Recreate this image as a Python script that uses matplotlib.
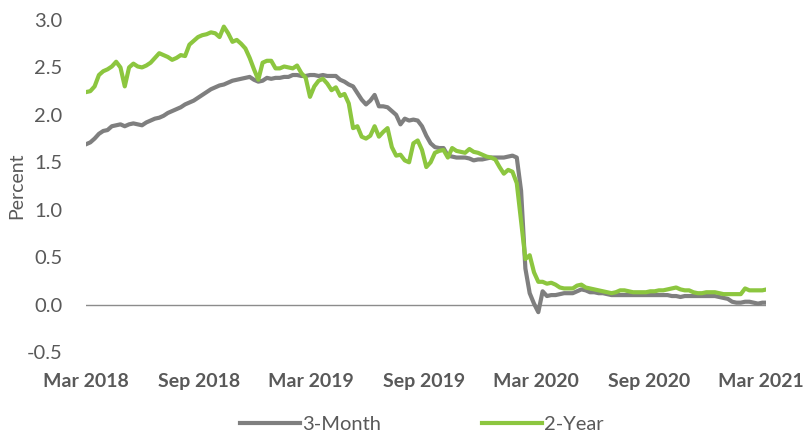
import numpy as np
import pandas as pd
import matplotlib
matplotlib.use("Agg")
import matplotlib.pyplot as plt
import matplotlib.dates as mdates

# weekly readings, Mar 2018 - Mar 2021
start_date = "2018-03-01"
n_weeks = 159

three_month = [
    1.69, 1.71, 1.75, 1.80, 1.83, 1.84, 1.88, 1.89, 1.90, 1.88,
    1.90, 1.91, 1.90, 1.89, 1.92, 1.94, 1.96, 1.97, 1.99, 2.02,
    2.04, 2.06, 2.08, 2.11, 2.13, 2.15, 2.18, 2.21, 2.24, 2.27,
    2.29, 2.31, 2.32, 2.34, 2.36, 2.37, 2.38, 2.39, 2.40, 2.37,
    2.35, 2.36, 2.39, 2.38, 2.39, 2.39, 2.40, 2.40, 2.42, 2.42,
    2.41, 2.41, 2.42, 2.42, 2.41, 2.42, 2.41, 2.41, 2.41, 2.37,
    2.35, 2.32, 2.30, 2.23, 2.16, 2.11, 2.15, 2.21, 2.09, 2.09,
    2.08, 2.04, 2.00, 1.90, 1.96, 1.94, 1.95, 1.94, 1.88, 1.78,
    1.70, 1.66, 1.65, 1.65, 1.57, 1.56, 1.55, 1.55, 1.55, 1.54,
    1.52, 1.53, 1.53, 1.54, 1.55, 1.55, 1.55, 1.55, 1.56, 1.57,
    1.55, 1.20, 0.38, 0.12, 0.01, -0.08, 0.14, 0.09, 0.10, 0.10,
    0.11, 0.12, 0.12, 0.12, 0.14, 0.16, 0.15, 0.13, 0.13, 0.12,
    0.12, 0.11, 0.10, 0.10, 0.10, 0.10, 0.10, 0.10, 0.10, 0.10,
    0.10, 0.10, 0.10, 0.10, 0.10, 0.10, 0.09, 0.09, 0.08, 0.09,
    0.09, 0.09, 0.09, 0.09, 0.09, 0.09, 0.09, 0.08, 0.07, 0.06,
    0.03, 0.02, 0.02, 0.03, 0.03, 0.02, 0.01, 0.02, 0.02,
]

two_year = [
    2.24, 2.25, 2.30, 2.42, 2.46, 2.48, 2.51, 2.56, 2.50, 2.30,
    2.50, 2.54, 2.51, 2.50, 2.52, 2.55, 2.60, 2.65, 2.63, 2.61,
    2.58, 2.60, 2.63, 2.62, 2.74, 2.78, 2.82, 2.84, 2.85, 2.87,
    2.86, 2.82, 2.93, 2.86, 2.77, 2.79, 2.75, 2.70, 2.60, 2.48,
    2.37, 2.55, 2.57, 2.57, 2.49, 2.49, 2.51, 2.50, 2.49, 2.52,
    2.44, 2.39, 2.19, 2.30, 2.36, 2.38, 2.33, 2.26, 2.29, 2.20,
    2.22, 2.12, 1.86, 1.88, 1.77, 1.75, 1.78, 1.88, 1.77, 1.82,
    1.86, 1.66, 1.57, 1.58, 1.52, 1.50, 1.70, 1.73, 1.63, 1.45,
    1.50, 1.60, 1.62, 1.63, 1.55, 1.65, 1.62, 1.61, 1.60, 1.64,
    1.61, 1.60, 1.58, 1.56, 1.55, 1.53, 1.45, 1.38, 1.42, 1.40,
    1.28, 0.88, 0.48, 0.52, 0.34, 0.24, 0.24, 0.22, 0.23, 0.21,
    0.18, 0.17, 0.17, 0.17, 0.20, 0.21, 0.18, 0.17, 0.16, 0.15,
    0.14, 0.13, 0.12, 0.13, 0.15, 0.15, 0.14, 0.13, 0.13, 0.13,
    0.13, 0.14, 0.14, 0.15, 0.15, 0.16, 0.17, 0.18, 0.16, 0.15,
    0.15, 0.13, 0.12, 0.12, 0.13, 0.13, 0.13, 0.12, 0.11, 0.11,
    0.11, 0.11, 0.11, 0.17, 0.15, 0.15, 0.15, 0.15, 0.16,
]

dates = pd.date_range(start_date, periods=n_weeks, freq="7D")

plt.rcParams['font.family'] = ['Lato', 'DejaVu Sans']
txt = '#595959'

fig = plt.figure(figsize=(8.11, 4.46), dpi=100)
ax = fig.add_axes([86/811, 1-352/446, (766-86)/811, (352-20)/446])

ax.plot(dates, three_month, color='#7f7f7f', lw=3.0, label='3-Month', solid_joinstyle='round')
ax.plot(dates, two_year, color='#8cc63f', lw=3.0, label='2-Year', solid_joinstyle='round')
ax.axhline(0, color='#8c8c8c', lw=1, zorder=0)

ax.set_xlim(pd.Timestamp("2018-03-01"), pd.Timestamp("2021-03-10"))
ax.set_ylim(-0.5, 3.0)
ax.set_yticks(np.arange(-0.5, 3.01, 0.5))
ax.yaxis.set_major_formatter(plt.FuncFormatter(lambda v, p: f"{v:.1f}"))
ax.xaxis.set_major_locator(mdates.MonthLocator(bymonth=[3, 9]))
ax.xaxis.set_major_formatter(mdates.DateFormatter("%b %Y"))

for s in ax.spines.values():
    s.set_visible(False)
ax.tick_params(axis='y', length=0, pad=17, labelsize=14.5, labelcolor=txt)
ax.tick_params(axis='x', length=0, pad=15, labelsize=14, labelcolor=txt)
for lab in ax.get_xticklabels():
    lab.set_fontweight('bold')
ax.set_ylabel("Percent", fontsize=14, color=txt, labelpad=1)

fig.legend(loc='lower center', bbox_to_anchor=(0.52, -0.012), ncol=2, frameon=False,
           fontsize=14.5, labelcolor=txt, handlelength=3.0, handletextpad=0.1,
           columnspacing=5.0)

fig.savefig("out.png", dpi=100)
